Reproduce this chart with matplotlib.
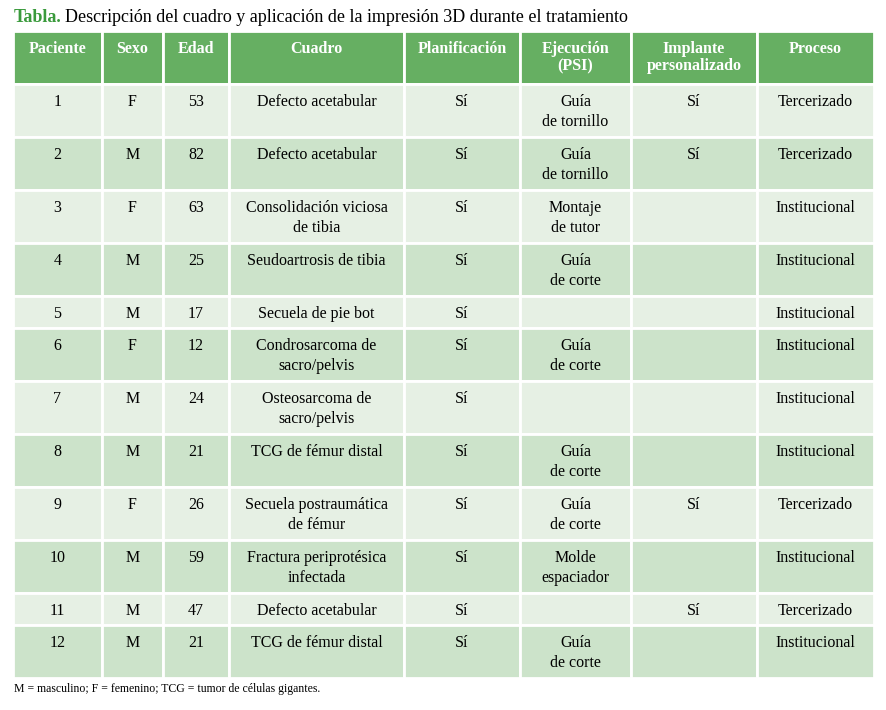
import matplotlib
matplotlib.use("Agg")
import matplotlib.pyplot as plt
from matplotlib.patches import Rectangle

# Table content
headers = ["Paciente", "Sexo", "Edad", "Cuadro", "Planificación",
           "Ejecución\n(PSI)", "Implante\npersonalizado", "Proceso"]
pacientes = [str(i) for i in range(1, 13)]
sexo = ["F", "M", "F", "M", "M", "F", "M", "M", "F", "M", "M", "M"]
edad = ["53", "82", "63", "25", "17", "12", "24", "21", "26", "59", "47", "21"]
cuadro = ["Defecto acetabular", "Defecto acetabular",
          "Consolidación viciosa\nde tibia", "Seudoartrosis de tibia",
          "Secuela de pie bot", "Condrosarcoma de\nsacro/pelvis",
          "Osteosarcoma de\nsacro/pelvis", "TCG de fémur distal",
          "Secuela postraumática\nde fémur", "Fractura periprotésica\ninfectada",
          "Defecto acetabular", "TCG de fémur distal"]
planificacion = ["Sí"] * 12
ejecucion = ["Guía\nde tornillo", "Guía\nde tornillo", "Montaje\nde tutor",
             "Guía\nde corte", "", "Guía\nde corte", "", "Guía\nde corte",
             "Guía\nde corte", "Molde\nespaciador", "", "Guía\nde corte"]
implante = ["Sí", "Sí", "", "", "", "", "", "", "Sí", "", "Sí", ""]
proceso = ["Tercerizado", "Tercerizado", "Institucional", "Institucional",
           "Institucional", "Institucional", "Institucional", "Institucional",
           "Tercerizado", "Institucional", "Tercerizado", "Institucional"]
columns = [pacientes, sexo, edad, cuadro, planificacion, ejecucion, implante, proceso]

# Layout (pixels)
col_edges = [13, 102, 163, 229, 404, 520, 631, 757, 874]
row_edges = [31, 84, 137, 190, 243, 296, 328, 381, 434, 487, 540, 593, 625, 678]

HEAD = "#66af62"
LIGHT = "#e6f0e4"
DARK = "#cce3ca"

plt.rcParams["font.family"] = "Liberation Serif"
fig = plt.figure(figsize=(8.86, 7.10), dpi=100)
ax = fig.add_axes([0, 0, 1, 1])
ax.set_xlim(0, 886)
ax.set_ylim(710, 0)
ax.axis("off")

def cell(r, c, color):
    x0, x1 = col_edges[c], col_edges[c + 1]
    y0, y1 = row_edges[r], row_edges[r + 1]
    ax.add_patch(Rectangle((x0, y0), x1 - x0, y1 - y0, facecolor=color,
                           edgecolor="white", lw=2))
    return (x0 + x1) / 2, y0

for c, h in enumerate(headers):
    xc, y0 = cell(0, c, HEAD)
    ax.text(xc, y0 + 10, h, ha="center", va="top", color="white",
            fontsize=11.5, fontweight="bold", linespacing=1.1)

for r in range(12):
    color = LIGHT if r % 2 == 0 else DARK
    for c, col in enumerate(columns):
        xc, y0 = cell(r + 1, c, color)
        ax.text(xc, y0 + 10, col[r], ha="center", va="top", color="black",
                fontsize=11.5, linespacing=1.3)

ax.text(14, 18, "Tabla.", color="#3a9a3c", fontsize=13, fontweight="bold",
        va="center", ha="left")
ax.text(65, 18, "Descripción del cuadro y aplicación de la impresión 3D durante el tratamiento",
        color="black", fontsize=13, va="center", ha="left")
ax.text(14, 689, "M = masculino; F = femenino; TCG = tumor de células gigantes.",
        fontsize=8.5, va="center", ha="left")

fig.savefig("out.png", dpi=100)
